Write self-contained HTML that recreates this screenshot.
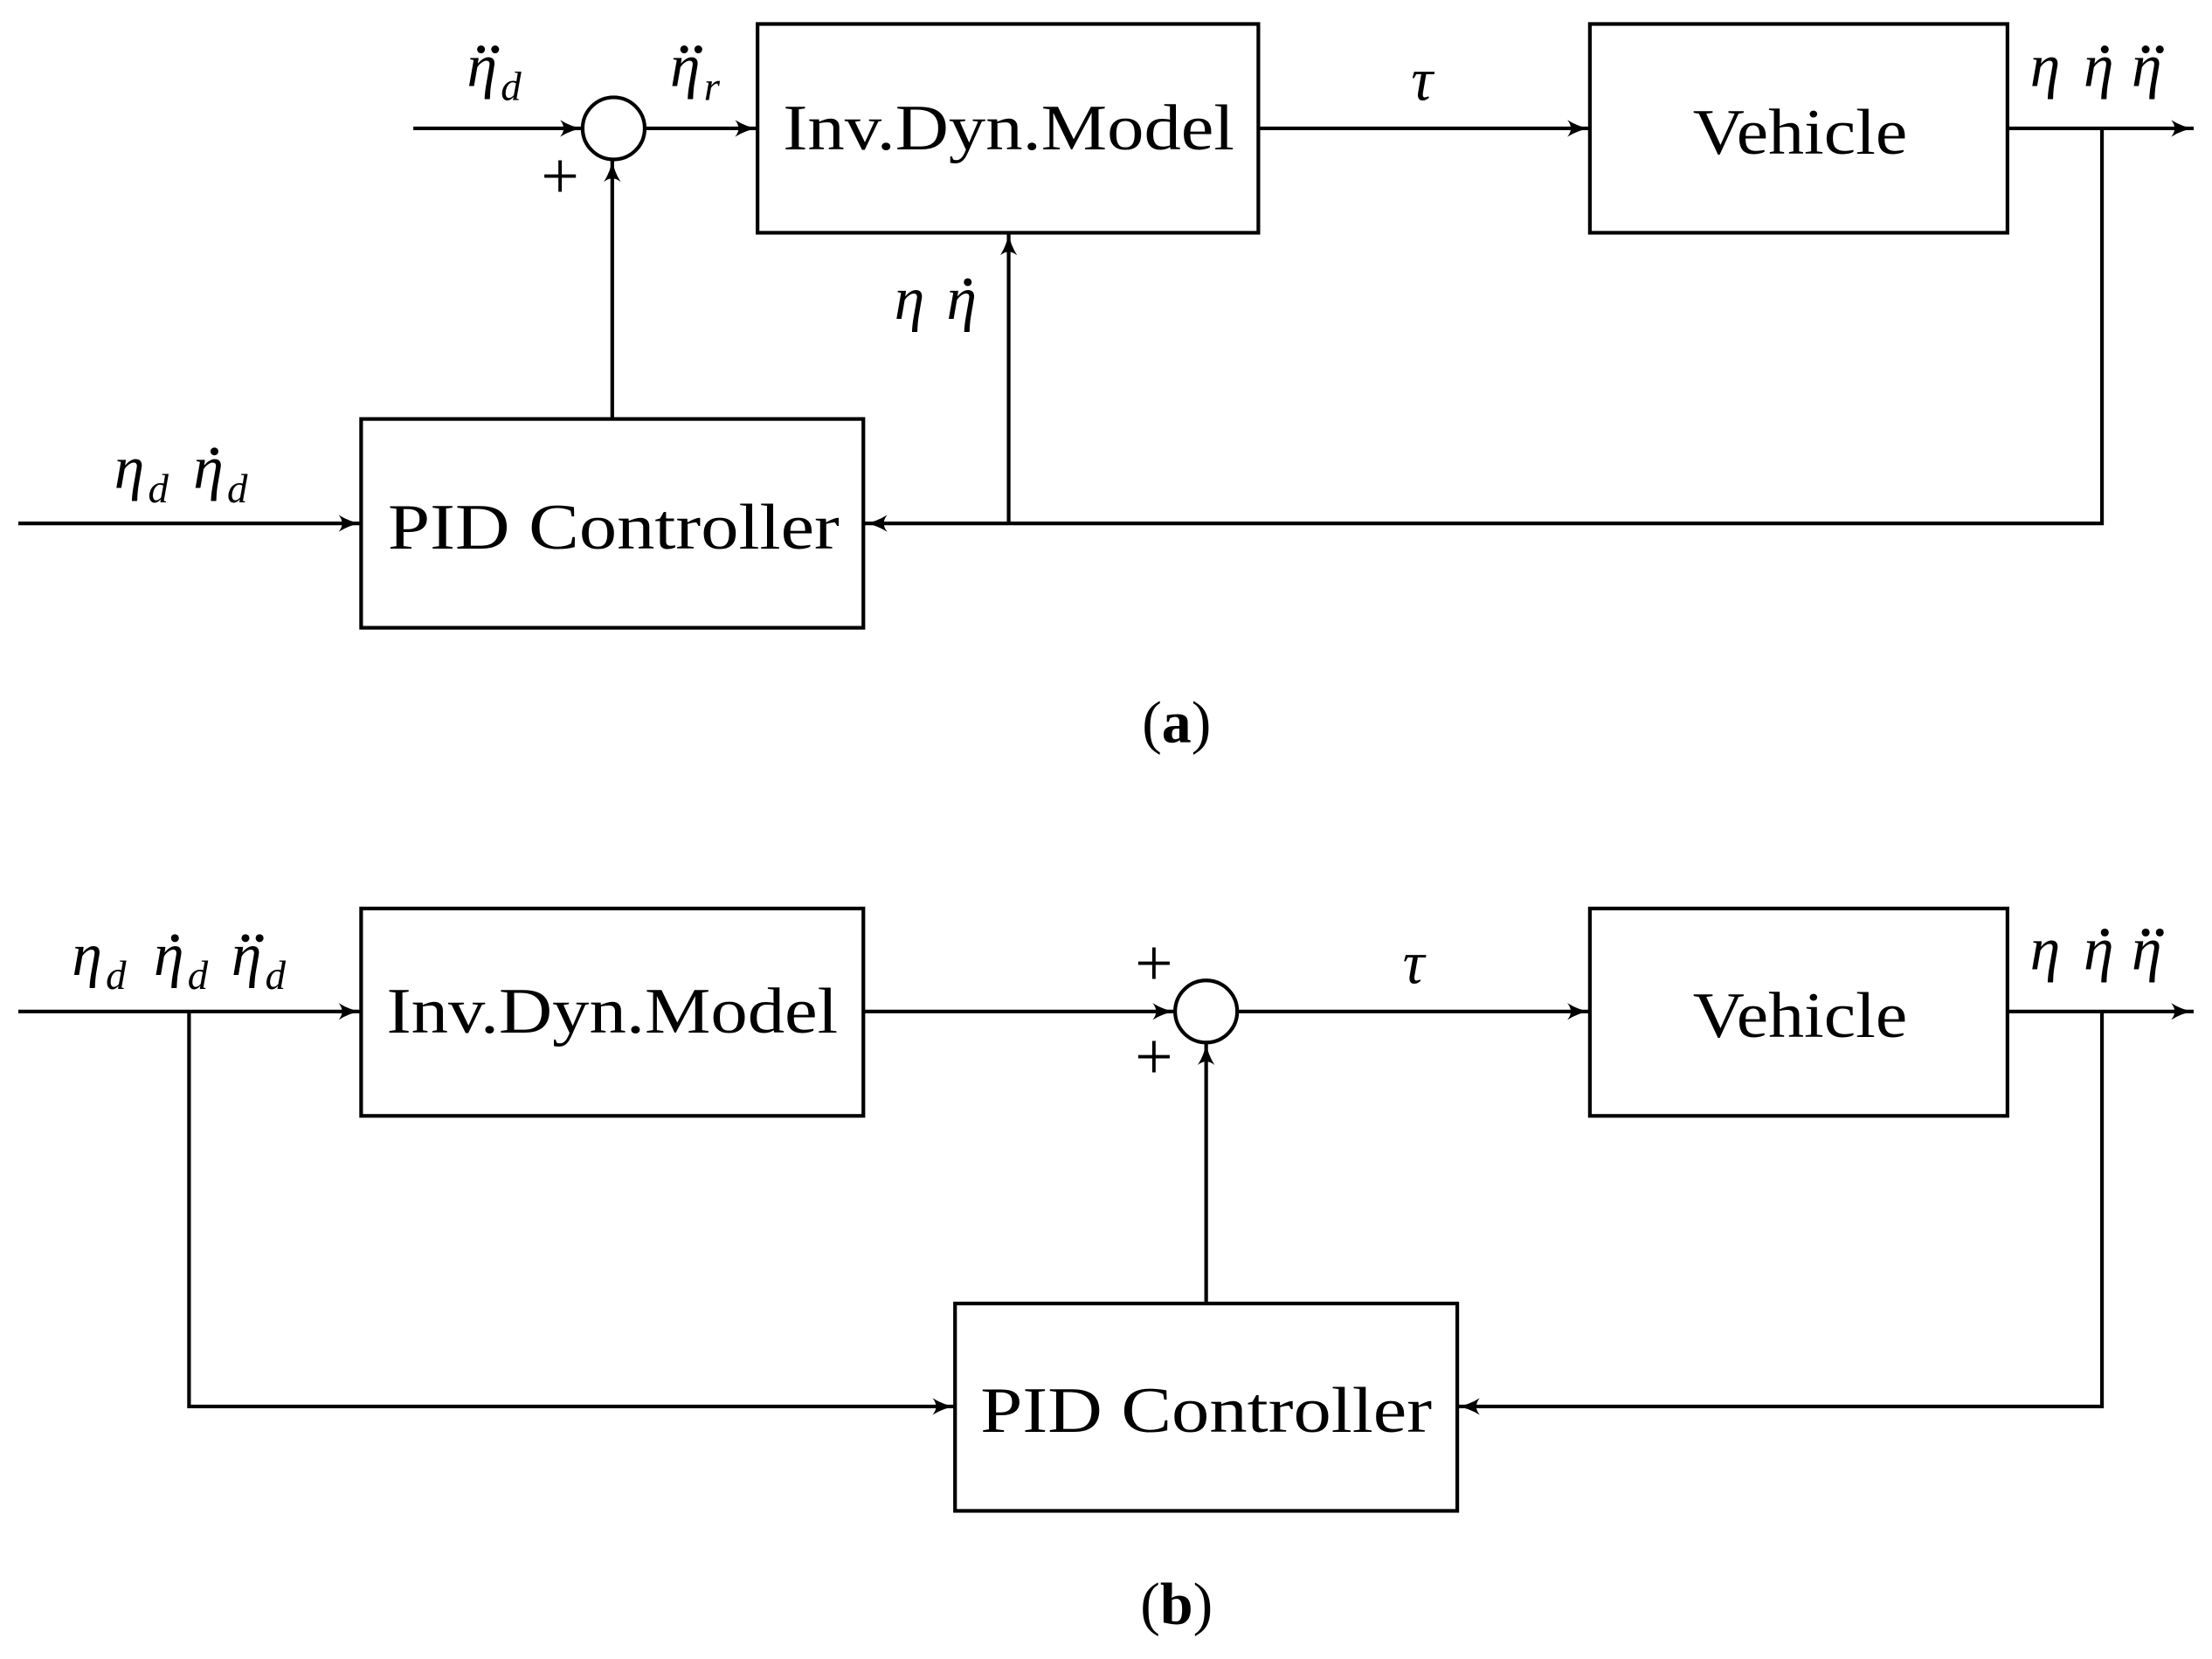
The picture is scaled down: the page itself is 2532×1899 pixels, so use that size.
<!DOCTYPE html>
<html><head><meta charset="utf-8"><style>
html,body{margin:0;padding:0;background:#fff;}
svg{display:block;}
text{font-family:"Liberation Serif","DejaVu Serif",serif;fill:#000;}
.m{font-style:italic;font-size:43px;}
.s{font-style:italic;font-size:29px;}
</style></head><body>
<svg width="2532" height="1899" viewBox="0 0 1568 1176" xmlns="http://www.w3.org/2000/svg">
<defs>
<marker id="a" viewBox="0 0 16 12" refX="16" refY="6" markerWidth="16" markerHeight="12" markerUnits="userSpaceOnUse" orient="auto">
<path d="M0,0 Q8,5 16,6 Q8,7 0,12 Q5,6 0,0 Z" fill="#000"/>
</marker>
</defs>
<g stroke="#000" stroke-width="2.6" fill="none">
<line x1="293" y1="91" x2="413" y2="91" marker-end="url(#a)"/>
<ellipse cx="435" cy="91" rx="22" ry="22"/>
<line x1="457" y1="91" x2="537" y2="91" marker-end="url(#a)"/>
<rect x="537" y="17" width="355" height="148"/>
<line x1="892" y1="91" x2="1127" y2="91" marker-end="url(#a)"/>
<rect x="1127" y="17" width="296" height="148"/>
<line x1="1423" y1="91" x2="1555" y2="91" marker-end="url(#a)"/>
<polyline points="1490,91 1490,371 613,371" marker-end="url(#a)"/>
<line x1="715" y1="371" x2="715" y2="165" marker-end="url(#a)"/>
<rect x="256" y="297" width="356" height="148"/>
<line x1="434" y1="297" x2="434" y2="113" marker-end="url(#a)"/>
<line x1="13" y1="371" x2="256" y2="371" marker-end="url(#a)"/>
<line x1="13" y1="717" x2="256" y2="717" marker-end="url(#a)"/>
<rect x="256" y="644" width="356" height="147"/>
<line x1="612" y1="717" x2="833" y2="717" marker-end="url(#a)"/>
<ellipse cx="855" cy="717" rx="22" ry="22"/>
<line x1="877" y1="717" x2="1127" y2="717" marker-end="url(#a)"/>
<rect x="1127" y="644" width="296" height="147"/>
<line x1="1423" y1="717" x2="1555" y2="717" marker-end="url(#a)"/>
<polyline points="1490,717 1490,997 1033,997" marker-end="url(#a)"/>
<rect x="677" y="924" width="356" height="147"/>
<line x1="855" y1="924" x2="855" y2="739" marker-end="url(#a)"/>
<polyline points="134,717 134,997 677,997" marker-end="url(#a)"/>
</g>
<g font-size="46">
<text x="555" y="106" textLength="320" lengthAdjust="spacingAndGlyphs">Inv.Dyn.Model</text>
<text x="1200" y="109" textLength="152" lengthAdjust="spacingAndGlyphs">Vehicle</text>
<text x="275" y="389" textLength="320" lengthAdjust="spacingAndGlyphs">PID Controller</text>
<text x="274" y="732" textLength="320" lengthAdjust="spacingAndGlyphs">Inv.Dyn.Model</text>
<text x="1200" y="735" textLength="152" lengthAdjust="spacingAndGlyphs">Vehicle</text>
<text x="695" y="1015" textLength="320" lengthAdjust="spacingAndGlyphs">PID Controller</text>
</g>
<g font-size="48" text-anchor="middle">
<text x="397" y="141">+</text>
<text x="818" y="699">+</text>
<text x="818" y="765">+</text>
</g>
<g>
<text class="m" x="331" y="61">η</text><text class="s" x="355" y="71">d</text>
<text class="m" x="475" y="61">η</text><text class="s" x="499" y="71">r</text>
<text class="m" x="1008" y="71" text-anchor="middle">τ</text>
<text class="m" x="1439" y="61">η</text><text class="m" x="1477" y="61">η</text><text class="m" x="1511" y="61">η</text>
<text class="m" x="634" y="226">η</text><text class="m" x="671" y="226">η</text>
<text class="m" x="81" y="346">η</text><text class="s" x="105" y="356">d</text>
<text class="m" x="137" y="346">η</text><text class="s" x="161" y="356">d</text>
<text class="m" x="51" y="691">η</text><text class="s" x="75" y="701">d</text>
<text class="m" x="109" y="691">η</text><text class="s" x="133" y="701">d</text>
<text class="m" x="164" y="691">η</text><text class="s" x="188" y="701">d</text>
<text class="m" x="1002" y="697" text-anchor="middle">τ</text>
<text class="m" x="1439" y="687">η</text><text class="m" x="1477" y="687">η</text><text class="m" x="1511" y="687">η</text>
</g>
<g fill="#000">
<circle cx="341" cy="35" r="2.8"/><circle cx="351" cy="35" r="2.8"/>
<circle cx="485" cy="35" r="2.8"/><circle cx="495" cy="35" r="2.8"/>
<circle cx="1492" cy="35" r="2.8"/>
<circle cx="1521" cy="35" r="2.8"/><circle cx="1531" cy="35" r="2.8"/>
<circle cx="686" cy="200" r="2.8"/>
<circle cx="152" cy="320" r="2.8"/>
<circle cx="124" cy="665" r="2.8"/>
<circle cx="174" cy="665" r="2.8"/><circle cx="184" cy="665" r="2.8"/>
<circle cx="1492" cy="661" r="2.8"/>
<circle cx="1521" cy="661" r="2.8"/><circle cx="1531" cy="661" r="2.8"/>
</g>
<g font-size="42" text-anchor="middle">
<text x="834" y="526">(<tspan font-weight="bold">a</tspan>)</text>
<text x="834" y="1151">(<tspan font-weight="bold">b</tspan>)</text>
</g>
</svg>
</body></html>
